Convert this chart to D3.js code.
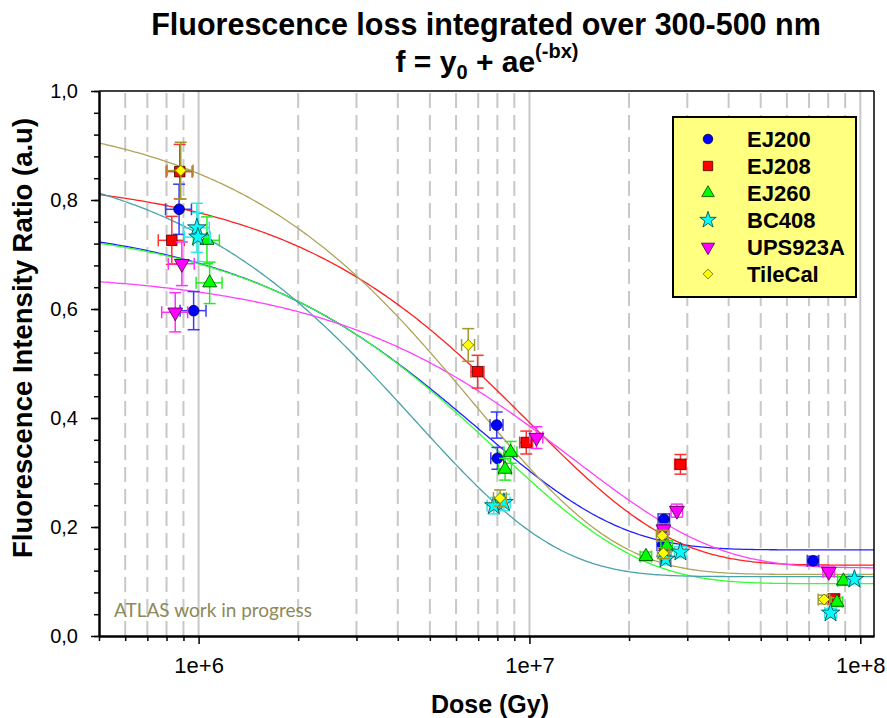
<!DOCTYPE html>
<html>
<head>
<meta charset="utf-8">
<script src="https://cdn.jsdelivr.net/npm/d3@7"></script>
<style>
  body { margin: 0; background: #fff; }
  text { font-family: "Liberation Sans", Arial, sans-serif; }
</style>
</head>
<body>
<svg id="chart" width="887" height="718"></svg>
<script>
// values: [dose (Gy), ratio, y error, relative x error]
var names = ["EJ200", "EJ208", "EJ260", "BC408", "UPS923A", "TileCal"];

var ej200 = [[8.73e5, 0.783, 0.046, 0.09], [9.66e5, 0.597, 0.035, 0.09], [7.96e6, 0.387, 0.024, 0.045],
  [8.0e6, 0.326, 0.02, 0.045], [2.55e7, 0.214, 0.01, 0.04], [2.53e7, 0.167, 0.01, 0.04], [7.2e7, 0.138, 0.008, 0.04]];
var ej208 = [[8.77e5, 0.852, 0.05, 0.09], [8.3e5, 0.726, 0.044, 0.09], [6.97e6, 0.485, 0.03, 0.045],
  [9.78e6, 0.355, 0.021, 0.045], [2.86e7, 0.315, 0.018, 0.04], [2.58e7, 0.142, 0.01, 0.04], [8.33e7, 0.068, 0.008, 0.04]];
var ej260 = [[1.06e6, 0.726, 0.043, 0.09], [1.08e6, 0.648, 0.038, 0.09], [8.77e6, 0.337, 0.02, 0.045],
  [8.44e6, 0.306, 0.02, 0.045], [2.6e7, 0.165, 0.01, 0.04], [2.25e7, 0.146, 0.008, 0.04],
  [8.89e7, 0.101, 0.008, 0.04], [8.5e7, 0.062, 0.008, 0.04]];
var bc408 = [[9.88e5, 0.749, 0.045, 0.09], [9.95e5, 0.732, 0.045, 0.09], [7.8e6, 0.239, 0.015, 0.045],
  [8.37e6, 0.245, 0.015, 0.045], [2.86e7, 0.154, 0.01, 0.04], [2.58e7, 0.141, 0.01, 0.04],
  [9.6e7, 0.104, 0.008, 0.04], [8.13e7, 0.042, 0.008, 0.04]];
var ups923a = [[8.9e5, 0.683, 0.04, 0.09], [8.5e5, 0.594, 0.036, 0.09], [1.05e7, 0.364, 0.02, 0.045],
  [2.79e7, 0.230, 0.012, 0.04], [2.54e7, 0.196, 0.01, 0.04], [8.03e7, 0.118, 0.008, 0.04]];
var tilecal = [[8.83e5, 0.854, 0.052, 0.09], [6.53e6, 0.534, 0.03, 0.045], [8.15e6, 0.253, 0.015, 0.045],
  [2.52e7, 0.184, 0.01, 0.04], [2.54e7, 0.152, 0.01, 0.04], [7.77e7, 0.067, 0.008, 0.04]];

// fit f = y0 + a*exp(-b*x), one entry per material
var fitY0 = [0.158, 0.130, 0.096, 0.109, 0.125, 0.113];
var fitA  = [0.607, 0.715, 0.665, 0.787, 0.545, 0.852];
var fitB  = [1.432e-7, 1.005e-7, 1.25e-7, 2.24e-7, 7.4e-8, 1.472e-7];

var yTicks = [0, 0.2, 0.4, 0.6, 0.8, 1.0];
var xTicks = [1e6, 1e7, 1e8];

var allData = [ej200, ej208, ej260, bc408, ups923a, tilecal];

// styles
var fills   = ["#0000ff", "#ff0000", "#00ff00", "#00ffff", "#ff00ff", "#ffff00"];
var bars    = ["#3a3aff", "#ff3030", "#20ee20", "#30e8e8", "#ff30ff", "#a09a30"];
var lines   = ["#2020ff", "#ff2020", "#30ff30", "#48a2aa", "#ff40ff", "#aea45a"];
var outline = ["#000040", "#400000", "#004000", "#004040", "#400040", "#707000"];

var svg = d3.select("#chart");
var L = 99, R = 874, T = 91, B = 636;

var x = d3.scaleLog().domain([5e5, 1.1e8]).range([L, R]);
var y = d3.scaleLinear().domain([0, 1]).range([B, T]);

svg.append("clipPath").attr("id", "clip")
  .append("rect").attr("x", L).attr("y", T).attr("width", R - L).attr("height", B - T);

// vertical grid
var minorX = [];
[1e5, 1e6, 1e7].forEach(function (base) {
  for (var m = 2; m <= 9; m++) if (base * m > 5e5) minorX.push(base * m);
});
svg.append("g").selectAll("line").data(minorX).enter().append("line")
  .attr("x1", d => x(d)).attr("x2", d => x(d)).attr("y1", T + 2).attr("y2", B)
  .attr("stroke", "#c8c8c8").attr("stroke-width", 2).attr("stroke-dasharray", "15,7");
svg.append("g").selectAll("line").data(xTicks).enter().append("line")
  .attr("x1", d => x(d)).attr("x2", d => x(d)).attr("y1", T).attr("y2", B)
  .attr("stroke", "#c8c8c8").attr("stroke-width", 2);

// fit curves
var xs = d3.range(301).map(i => 5e5 * Math.pow(1.1e8 / 5e5, i / 300));
var lineGen = d3.line().x(d => x(d[0])).y(d => y(d[1]));
var curves = svg.append("g").attr("clip-path", "url(#clip)");
names.forEach(function (n, k) {
  curves.append("path")
    .attr("d", lineGen(xs.map(v => [v, fitY0[k] + fitA[k] * Math.exp(-fitB[k] * v)])))
    .attr("fill", "none").attr("stroke", lines[k]).attr("stroke-width", 1.3);
});

// symbols
function drawMarker(g, k, cx, cy, s) {
  var sym, rot = 0, size = 90 * s;
  if (k === 0) sym = d3.symbolCircle;
  if (k === 1) { sym = d3.symbolSquare; size = 110 * s; }
  if (k === 2) { sym = d3.symbolTriangle; size = 85 * s; }
  if (k === 3) { sym = d3.symbolStar; size = 105 * s; }
  if (k === 4) { sym = d3.symbolTriangle; size = 95 * s; rot = 180; }
  if (k === 5) { sym = d3.symbolSquare; size = 60 * s; rot = 45; }
  g.append("path")
    .attr("d", d3.symbol().type(sym).size(size)())
    .attr("transform", "translate(" + cx + "," + cy + ") rotate(" + rot + ")")
    .attr("fill", fills[k]).attr("stroke", outline[k]).attr("stroke-width", 0.8);
}

// error bars and points
allData.forEach(function (data, k) {
  var g = svg.append("g");
  data.forEach(function (d) {
    var px = x(d[0]), py = y(d[1]);
    var y1 = y(d[1] + d[2]), y2 = y(d[1] - d[2]);
    var x1 = x(d[0] * (1 - d[3])), x2 = x(d[0] * (1 + d[3]));
    var segs = [[px, y1, px, y2], [px - 6, y1, px + 6, y1], [px - 6, y2, px + 6, y2],
      [x1, py, x2, py], [x1, py - 6, x1, py + 6], [x2, py - 6, x2, py + 6]];
    segs.forEach(function (s) {
      g.append("line").attr("x1", s[0]).attr("y1", s[1]).attr("x2", s[2]).attr("y2", s[3])
        .attr("stroke", bars[k]).attr("stroke-width", 1.5);
    });
  });
  data.forEach(function (d) { drawMarker(g, k, x(d[0]), y(d[1]), 1); });
});

// axes
var yAxis = svg.append("g").attr("transform", "translate(" + L + ",0)")
  .call(d3.axisLeft(y).tickValues(yTicks).tickSize(8).tickSizeOuter(0).tickPadding(13)
    .tickFormat(d => d3.format(".1f")(d).replace(".", ",")));
svg.append("g").attr("transform", "translate(" + L + ",0)")
  .call(d3.axisLeft(y).tickValues(d3.range(0, 1.001, 0.04)).tickSize(5).tickSizeOuter(0).tickFormat(""));

var xAxis = svg.append("g").attr("transform", "translate(0," + B + ")")
  .call(d3.axisBottom(x).tickValues(xTicks).tickSize(8).tickSizeOuter(0).tickPadding(13)
    .tickFormat(d => "1e+" + Math.round(Math.log10(d))));
svg.append("g").attr("transform", "translate(0," + B + ")")
  .call(d3.axisBottom(x).tickValues([5e5].concat(minorX)).tickSize(5).tickSizeOuter(0).tickFormat(""));

svg.selectAll(".domain").attr("stroke", "#000").attr("stroke-width", 2);
svg.selectAll(".tick line").attr("stroke", "#000").attr("stroke-width", 1.5);
yAxis.selectAll("text").attr("font-size", 20).attr("fill", "#000").attr("font-family", "Liberation Sans, Arial");
xAxis.selectAll("text").attr("font-size", 22).attr("fill", "#000").attr("font-family", "Liberation Sans, Arial");

// top and right frame
svg.append("line").attr("x1", L).attr("x2", R).attr("y1", T).attr("y2", T).attr("stroke", "#000").attr("stroke-width", 1.5);
svg.append("line").attr("x1", R).attr("x2", R).attr("y1", T).attr("y2", B).attr("stroke", "#000").attr("stroke-width", 1.5);

// titles
svg.append("text").attr("x", 486).attr("y", 35).attr("text-anchor", "middle")
  .attr("font-size", 30.5).attr("font-weight", "bold").text("Fluorescence loss integrated over 300-500 nm");
var t2 = svg.append("text").attr("x", 487).attr("y", 72).attr("text-anchor", "middle")
  .attr("font-size", 30).attr("font-weight", "bold");
t2.append("tspan").text("f = y");
t2.append("tspan").attr("font-size", 20).attr("dy", 7).text("0");
t2.append("tspan").attr("dy", -7).text(" + ae");
t2.append("tspan").attr("font-size", 20).attr("dy", -14).text("(-bx)");

svg.append("text").attr("transform", "translate(32,338) rotate(-90)").attr("text-anchor", "middle")
  .attr("font-size", 27.5).attr("font-weight", "bold").text("Fluorescence Intensity Ratio (a.u)");
svg.append("text").attr("x", 490).attr("y", 713).attr("text-anchor", "middle")
  .attr("font-size", 25).attr("font-weight", "bold").text("Dose (Gy)");

svg.append("text").attr("x", 114).attr("y", 617).attr("font-size", 19)
  .style("font-family", "Lato, 'Open Sans', sans-serif").attr("fill", "#8c8a5a").text("ATLAS work in progress");

// legend
var leg = svg.append("g");
leg.append("rect").attr("x", 673).attr("y", 117).attr("width", 183).attr("height", 180)
  .attr("fill", "#ffff80").attr("stroke", "#000").attr("stroke-width", 2);
names.forEach(function (n, k) {
  var ly = 139 + k * 27;
  drawMarker(leg, k, 708, ly, 0.8);
  leg.append("text").attr("x", 747).attr("y", ly + 8).attr("font-size", 22)
    .attr("font-weight", "bold").text(n);
});
</script>
</body>
</html>
